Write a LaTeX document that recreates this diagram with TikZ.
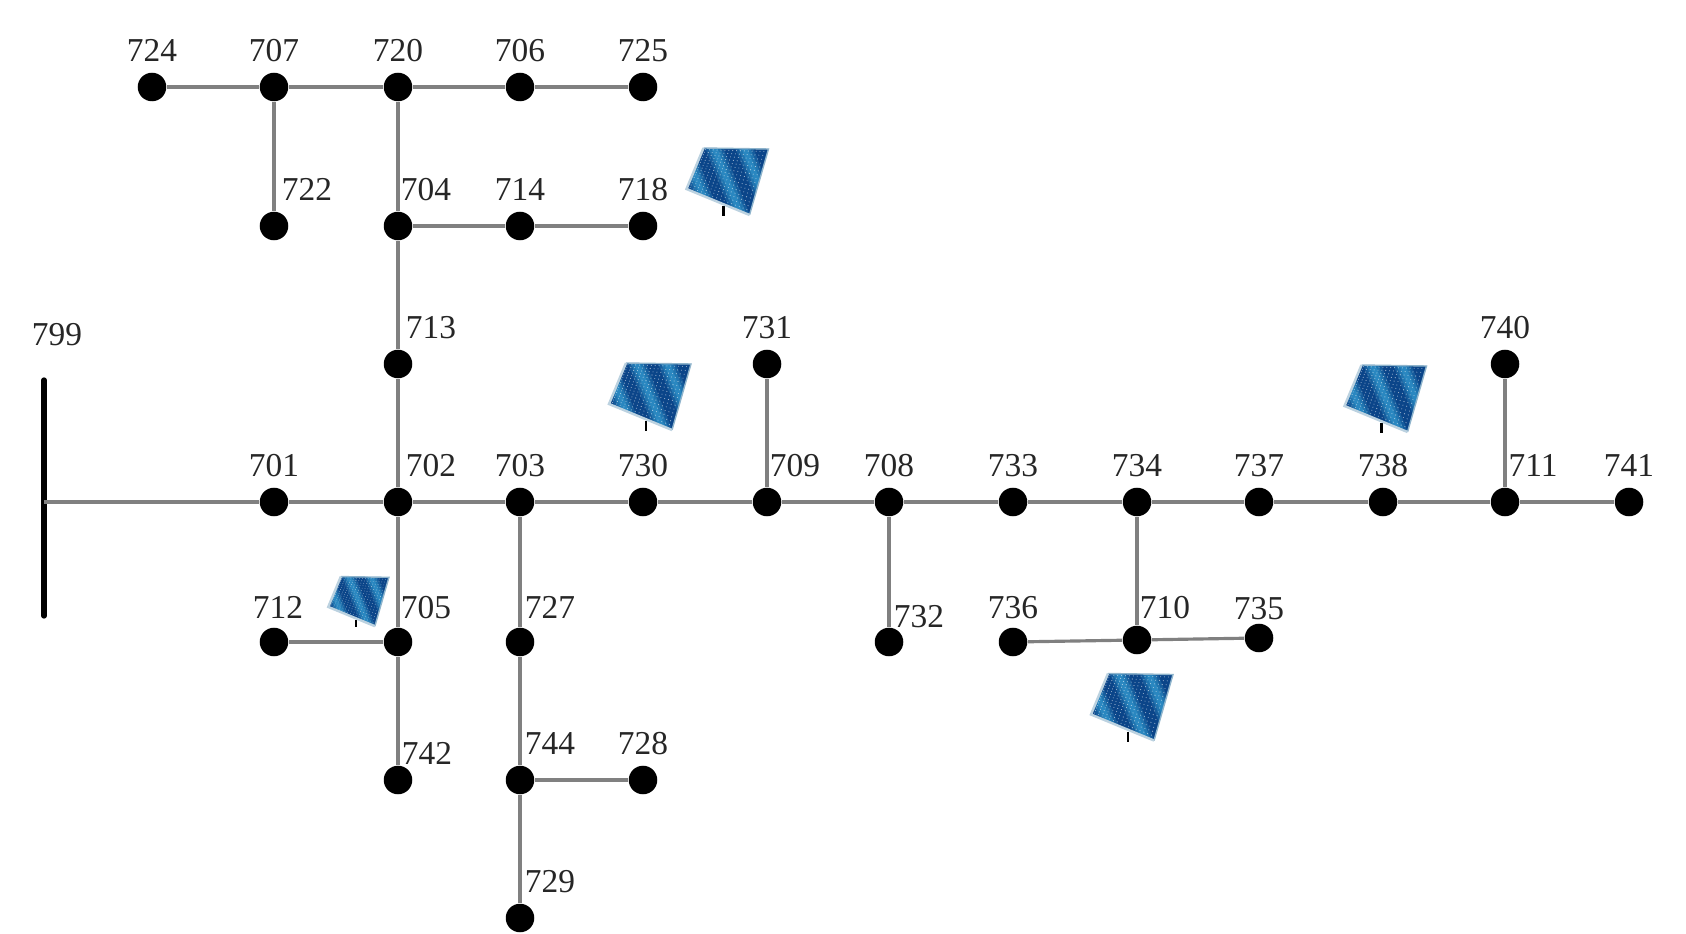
\documentclass[tikz,border=0pt]{standalone}
\usepackage{fontspec}
\setmainfont{Liberation Serif}
\usetikzlibrary{calc}
\definecolor{panelblue}{HTML}{0B4589}
\definecolor{panelstripe}{HTML}{38A4D8}
\definecolor{panelframe}{HTML}{8FB4CC}
\tikzset{
  bus/.style={circle,fill=black,inner sep=0pt,minimum size=0.285cm},
  num/.style={inner sep=0pt,label distance=0.095cm,text=black!85,font=\fontsize{9.5}{10}\selectfont},
  busup/.style={bus,label={[num,name=l#1]90:#1}},
  busright/.style={bus,label={[num,name=l#1,xshift=0.28cm]90:#1}},
  buswide/.style={bus,label={[num,name=l#1,xshift=0.3cm]90:#1}},
  feeder/.style={draw=black!50,line width=0.9pt},
  pics/panel/.style={code={
    \coordinate (tl) at (-24,-33);
    \coordinate (tr) at (41,-32);
    \coordinate (br) at (22,34);
    \coordinate (bl) at (-41,8);
    \draw[black,line width=0.6pt] (-4,25) -- (-4,35);
    \begin{scope}
      \clip (tl) -- (tr) -- (br) -- (bl) -- cycle;
      \fill[panelblue] (-45,-35) rectangle (45,36);
      % soft diagonal reflections
      \foreach \w/\o in {9/.25,6/.35,3/.4} {
        \fill[panelstripe,opacity=\o] (-14-\w,-35) -- (-14+\w,-35) -- (14+\w,36) -- (14-\w,36) -- cycle;
        \fill[panelstripe,opacity=\o] (16-\w,-35) -- (16+\w,-35) -- (44+\w,36) -- (44-\w,36) -- cycle;
        \fill[panelstripe,opacity=\o] (-44-\w,-35) -- (-44+\w,-35) -- (-16+\w,36) -- (-16-\w,36) -- cycle;
      }
      \foreach \u in {0.04,0.10,...,0.98}
        \foreach \v in {0.04,0.10,...,0.98}
          \fill[white,opacity=.6] ($($(tl)!\u!(tr)$)!\v!($(bl)!\u!(br)$)$) circle (0.55);
    \end{scope}
    \draw[panelframe,line width=0.4pt] (tl) -- (tr) -- (br);
    \draw[panelframe!60,line width=0.7pt] (br) -- (bl) -- (tl);
  }}
}
\begin{document}
\begin{tikzpicture}[x=0.01cm,y=-0.01cm]
    \useasboundingbox (0,0) rectangle (1686,934);
    % top row
    \node[busup=724] (n724) at (152,87) {};
    \node[busup=707] (n707) at (274,87) {};
    \node[busup=720] (n720) at (398,87) {};
    \node[busup=706] (n706) at (520,87) {};
    \node[busup=725] (n725) at (643,87) {};
    % second row
    \node[bus,label={[num,name=l722,xshift=0.33cm]90:722}] (n722) at (274,226) {};
    \node[busright=704] (n704) at (398,226) {};
    \node[busup=714] (n714) at (520,226) {};
    \node[busup=718] (n718) at (643,226) {};
    % main feeder
    \node[bus,label={[num,name=l713,xshift=0.33cm]90:713}] (n713) at (398,364) {};
    \node[busup=731] (n731) at (767,364) {};
    \node[busup=740] (n740) at (1505,364) {};
    \node[busup=701] (n701) at (274,502) {};
    \node[bus,label={[num,name=l702,xshift=0.33cm]90:702}] (n702) at (398,502) {};
    \node[busup=703] (n703) at (520,502) {};
    \node[busup=730] (n730) at (643,502) {};
    \node[busright=709] (n709) at (767,502) {};
    \node[busup=708] (n708) at (889,502) {};
    \node[busup=733] (n733) at (1013,502) {};
    \node[busup=734] (n734) at (1137,502) {};
    \node[busup=737] (n737) at (1259,502) {};
    \node[busup=738] (n738) at (1383,502) {};
    \node[busright=711] (n711) at (1505,502) {};
    \node[busup=741] (n741) at (1629,502) {};
    % lower rows
    \node[bus,label={[num,name=l712,xshift=0.04cm,yshift=-0.02cm]90:712}] (n712) at (274,642) {};
    \node[bus,label={[num,name=l705,xshift=0.28cm,yshift=-0.02cm]90:705}] (n705) at (398,642) {};
    \node[bus,label={[num,name=l727,xshift=0.3cm,yshift=-0.02cm]90:727}] (n727) at (520,642) {};
    \node[bus,label={[num,name=l732,xshift=0.3cm,yshift=-0.11cm]90:732}] (n732) at (889,642) {};
    \node[bus,label={[num,name=l736,yshift=-0.02cm]90:736}] (n736) at (1013,642) {};
    \node[bus,label={[num,name=l710,xshift=0.28cm,yshift=-0.04cm]90:710}] (n710) at (1137,640) {};
    \node[bus,label={[num,name=l735,yshift=-0.065cm]90:735}] (n735) at (1259,638) {};
    \node[bus,label={[num,name=l742,xshift=0.29cm,yshift=-0.1cm]90:742}] (n742) at (398,780) {};
    \node[buswide=744] (n744) at (520,780) {};
    \node[busup=728] (n728) at (643,780) {};
    \node[buswide=729] (n729) at (520,918) {};
    % source bar
    \coordinate (bartop) at (44,380);
    \coordinate (barbot) at (44,616);
    \coordinate (bartap) at (44,502);
    \draw[black,line width=1.5pt,line cap=round] (bartop) -- (barbot);
    \node[num] (n799) at (57,335) {799};
    % feeders
    \draw[feeder] (n724) -- (n707) -- (n720) -- (n706) -- (n725);
    \draw[feeder] (n707) -- (n722);
    \draw[feeder] (n720) -- (n704) -- (n713) -- (n702) -- (n705) -- (n742);
    \draw[feeder] (n704) -- (n714) -- (n718);
    \draw[feeder] (bartap) -- (n701) -- (n702) -- (n703) -- (n730) -- (n709) -- (n708) -- (n733) -- (n734) -- (n737) -- (n738) -- (n711) -- (n741);
    \draw[feeder] (n731) -- (n709);
    \draw[feeder] (n740) -- (n711);
    \draw[feeder] (n712) -- (n705);
    \draw[feeder] (n703) -- (n727) -- (n744) -- (n729);
    \draw[feeder] (n744) -- (n728);
    \draw[feeder] (n708) -- (n732);
    \draw[feeder] (n734) -- (n710);
    \draw[feeder] (n736) -- (n710) -- (n735);
    % solar panels
    \pic at (727.5,181) {panel};
    \pic at (650,396) {panel};
    \pic at (1385.5,398) {panel};
    \pic at (1132,706.5) {panel};
    \pic[scale=0.74] at (358.6,601) {panel};
\end{tikzpicture}
\end{document}
